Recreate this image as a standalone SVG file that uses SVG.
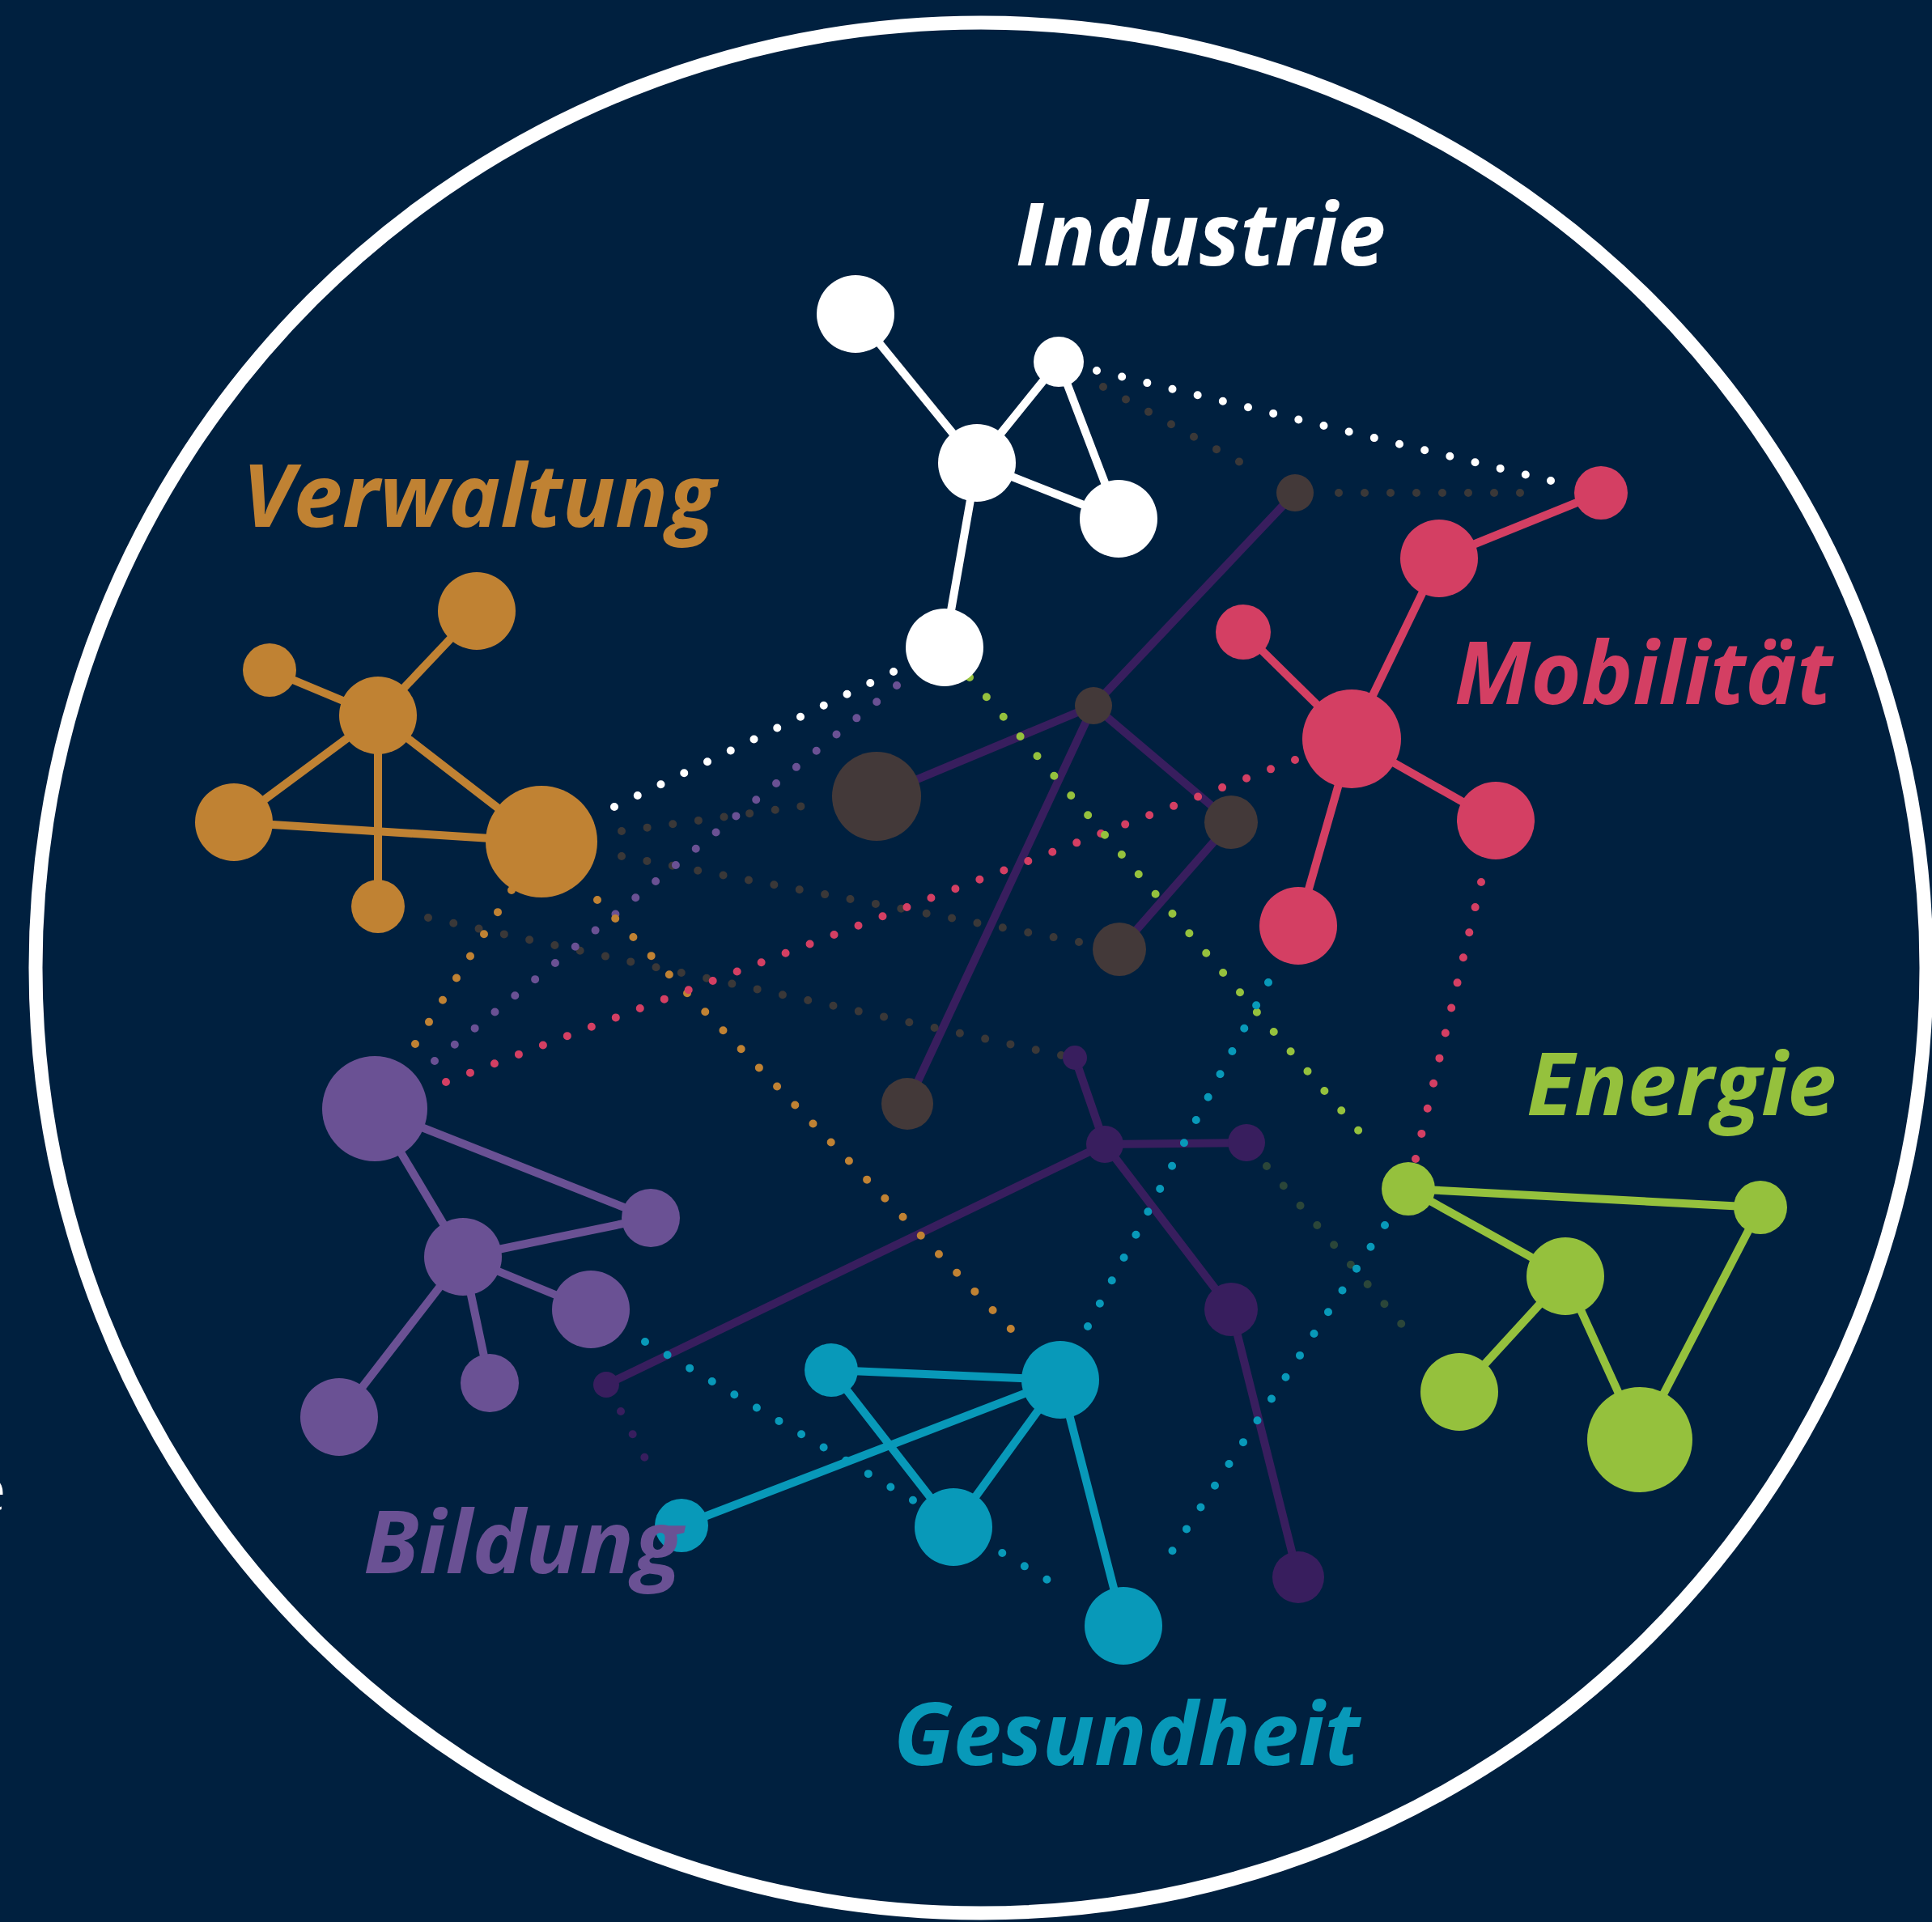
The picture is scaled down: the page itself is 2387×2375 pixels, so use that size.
<svg xmlns="http://www.w3.org/2000/svg" width="2387" height="2375" viewBox="0 0 2387 2375">
  <style>
    .edge { fill: none; stroke-width: 10; stroke-linecap: round; }
    .dots { fill: none; stroke-width: 10; stroke-linecap: round; stroke-dasharray: 0 1; }
    .label { font-family: "Open Sans", "Noto Sans", "Liberation Sans", sans-serif; font-weight: 700; font-style: italic; font-size: 108px; }
    .white { stroke: #ffffff; } .fwhite { fill: #ffffff; }
    .orange { stroke: #c08233; } .forange { fill: #c08233; }
    .red { stroke: #d43f63; } .fred { fill: #d43f63; }
    .green { stroke: #95c13d; } .fgreen { fill: #95c13d; }
    .teal { stroke: #0899b9; } .fteal { fill: #0899b9; }
    .purple { stroke: #6a5194; } .fpurple { fill: #6a5194; }
    .dpurple { stroke: #381e5e; } .fdpurple { fill: #381e5e; }
    .gray { stroke: #3a3838; } .fbrown { fill: #433939; }
    .dgreen { stroke: #2b4639; }
  </style>

  <!-- background and outer ring -->
  <rect x="0" y="0" width="2387" height="2375" fill="#00203f"/>
  <circle cx="1212" cy="1196" r="1168" fill="none" stroke="#ffffff" stroke-width="17"/>
  <text x="-33" y="1867" font-family="Open Sans, sans-serif" font-weight="300" font-size="74" fill="#ffffff">e</text>

  <g id="connectors">
    <!-- solid links inside each cluster -->
    <g class="edge white">
      <line x1="1057" y1="388" x2="1207" y2="572"/>
      <line x1="1308" y1="447" x2="1207" y2="572"/>
      <line x1="1308" y1="447" x2="1382" y2="641"/>
      <line x1="1207" y1="572" x2="1382" y2="641"/>
      <line x1="1207" y1="572" x2="1167" y2="800"/>
    </g>
    <g class="edge orange">
      <line x1="333" y1="828" x2="467" y2="884"/>
      <line x1="589" y1="755" x2="467" y2="884"/>
      <line x1="467" y1="884" x2="289" y2="1016"/>
      <line x1="467" y1="884" x2="669" y2="1040"/>
      <line x1="467" y1="884" x2="467" y2="1120"/>
      <line x1="289" y1="1016" x2="669" y2="1040"/>
    </g>
    <g class="edge red">
      <line x1="1978" y1="609" x2="1778" y2="690"/>
      <line x1="1778" y1="690" x2="1670" y2="913"/>
      <line x1="1536" y1="781" x2="1670" y2="913"/>
      <line x1="1670" y1="913" x2="1848" y2="1014"/>
      <line x1="1670" y1="913" x2="1604" y2="1144"/>
    </g>
    <g class="edge green">
      <line x1="1740" y1="1469" x2="2175" y2="1492"/>
      <line x1="1740" y1="1469" x2="1934" y2="1577"/>
      <line x1="1934" y1="1577" x2="1803" y2="1720"/>
      <line x1="1934" y1="1577" x2="2026" y2="1779"/>
      <line x1="2175" y1="1492" x2="2026" y2="1779"/>
    </g>
    <g class="edge teal">
      <line x1="1027" y1="1693" x2="1310" y2="1705"/>
      <line x1="1027" y1="1693" x2="1178" y2="1887"/>
      <line x1="1310" y1="1705" x2="1178" y2="1887"/>
      <line x1="1310" y1="1705" x2="842" y2="1885"/>
      <line x1="1310" y1="1705" x2="1388" y2="2009"/>
    </g>
    <g class="edge purple">
      <line x1="463" y1="1370" x2="804" y2="1505"/>
      <line x1="463" y1="1370" x2="572" y2="1553"/>
      <line x1="572" y1="1553" x2="804" y2="1505"/>
      <line x1="572" y1="1553" x2="730" y2="1618"/>
      <line x1="572" y1="1553" x2="419" y2="1751"/>
      <line x1="572" y1="1553" x2="605" y2="1709"/>
    </g>
    <g class="edge dpurple">
      <line x1="1600" y1="609" x2="1351" y2="872"/>
      <line x1="1351" y1="872" x2="1083" y2="984"/>
      <line x1="1351" y1="872" x2="1521" y2="1016"/>
      <line x1="1521" y1="1016" x2="1383" y2="1173"/>
      <line x1="1351" y1="872" x2="1121" y2="1364"/>
      <line x1="1328" y1="1307" x2="1365" y2="1414"/>
      <line x1="1365" y1="1414" x2="1540" y2="1412"/>
      <line x1="1365" y1="1414" x2="1521" y2="1618"/>
      <line x1="1521" y1="1618" x2="1604" y2="1949"/>
      <line x1="1365" y1="1414" x2="749" y2="1711"/>
    </g>

    <!-- dotted links between clusters -->
    <path class="dots gray" d="M1363,478 L1559,586" pathLength="7"/>
    <path class="dots gray" d="M1654,609 L1910,609" pathLength="8"/>
    <path class="dots gray" d="M768,1027 L1021,992" pathLength="8"/>
    <path class="dots gray" d="M768,1058 L1333,1164" pathLength="18"/>
    <path class="dots gray" d="M529,1134 L1311,1304" pathLength="25"/>
    <path class="dots dgreen" d="M1565,1441 L1752,1660" pathLength="9"/>
    <path class="dots white" d="M1355,458 L1916,594" pathLength="18"/>
    <path class="dots white" d="M1104,830 L759,997" pathLength="12"/>
    <path class="dots purple" d="M1108,847 L537,1311" pathLength="23"/>
    <path class="dots orange" d="M632,1100 L513,1290" pathLength="7"/>
    <path class="dots orange" d="M738,1112 L1271,1665" pathLength="24"/>
    <path class="dots red" d="M1600,939 L551,1337" pathLength="35"/>
    <path class="dots red" d="M1830,1090 L1749,1432" pathLength="11"/>
    <path class="dots green" d="M1198,837 L1699,1421" pathLength="24"/>
    <path class="dots teal" d="M1567,1214 L1344,1639" pathLength="15"/>
    <path class="dots teal" d="M1711,1514 L1431,1943" pathLength="16"/>
    <path class="dots teal" d="M797,1658 L1321,1968" pathLength="19"/>
    <path class="dots dpurple" d="M767,1744 L811,1829" pathLength="3"/>
  </g>

  <!-- Industrie -->
  <g id="industrie-1" class="fwhite"><circle cx="1057" cy="388" r="48"/></g>
  <g id="industrie-2" class="fwhite"><circle cx="1308" cy="447" r="31"/></g>
  <g id="industrie-3" class="fwhite"><circle cx="1207" cy="572" r="48"/></g>
  <g id="industrie-4" class="fwhite"><circle cx="1382" cy="641" r="48"/></g>
  <g id="industrie-5" class="fwhite"><circle cx="1167" cy="800" r="48"/></g>

  <!-- Verwaltung -->
  <g id="verwaltung-1" class="forange"><circle cx="333" cy="828" r="33"/></g>
  <g id="verwaltung-2" class="forange"><circle cx="589" cy="755" r="48"/></g>
  <g id="verwaltung-3" class="forange"><circle cx="467" cy="884" r="48"/></g>
  <g id="verwaltung-4" class="forange"><circle cx="289" cy="1016" r="48"/></g>
  <g id="verwaltung-5" class="forange"><circle cx="669" cy="1040" r="69"/></g>
  <g id="verwaltung-6" class="forange"><circle cx="467" cy="1120" r="33"/></g>

  <!-- Mobilität -->
  <g id="mobilitaet-1" class="fred"><circle cx="1978" cy="609" r="33"/></g>
  <g id="mobilitaet-2" class="fred"><circle cx="1778" cy="690" r="48"/></g>
  <g id="mobilitaet-3" class="fred"><circle cx="1536" cy="781" r="34"/></g>
  <g id="mobilitaet-4" class="fred"><circle cx="1670" cy="913" r="61"/></g>
  <g id="mobilitaet-5" class="fred"><circle cx="1848" cy="1014" r="48"/></g>
  <g id="mobilitaet-6" class="fred"><circle cx="1604" cy="1144" r="48"/></g>

  <!-- Energie -->
  <g id="energie-1" class="fgreen"><circle cx="1740" cy="1469" r="33"/></g>
  <g id="energie-2" class="fgreen"><circle cx="2175" cy="1492" r="33"/></g>
  <g id="energie-3" class="fgreen"><circle cx="1934" cy="1577" r="48"/></g>
  <g id="energie-4" class="fgreen"><circle cx="1803" cy="1720" r="48"/></g>
  <g id="energie-5" class="fgreen"><circle cx="2026" cy="1779" r="65"/></g>

  <!-- Gesundheit -->
  <g id="gesundheit-1" class="fteal"><circle cx="1027" cy="1693" r="33"/></g>
  <g id="gesundheit-2" class="fteal"><circle cx="1310" cy="1705" r="48"/></g>
  <g id="gesundheit-3" class="fteal"><circle cx="842" cy="1885" r="33"/></g>
  <g id="gesundheit-4" class="fteal"><circle cx="1178" cy="1887" r="48"/></g>
  <g id="gesundheit-5" class="fteal"><circle cx="1388" cy="2009" r="48"/></g>

  <!-- Bildung -->
  <g id="bildung-1" class="fpurple"><circle cx="463" cy="1370" r="65"/></g>
  <g id="bildung-2" class="fpurple"><circle cx="804" cy="1505" r="36"/></g>
  <g id="bildung-3" class="fpurple"><circle cx="572" cy="1553" r="48"/></g>
  <g id="bildung-4" class="fpurple"><circle cx="730" cy="1618" r="48"/></g>
  <g id="bildung-5" class="fpurple"><circle cx="419" cy="1751" r="48"/></g>
  <g id="bildung-6" class="fpurple"><circle cx="605" cy="1709" r="36"/></g>

  <!-- unnamed dark hubs -->
  <g id="hub-1" class="fbrown"><circle cx="1083" cy="984" r="55"/></g>
  <g id="hub-2" class="fbrown"><circle cx="1351" cy="872" r="23"/></g>
  <g id="hub-3" class="fbrown"><circle cx="1600" cy="609" r="23"/></g>
  <g id="hub-4" class="fbrown"><circle cx="1521" cy="1016" r="33"/></g>
  <g id="hub-5" class="fbrown"><circle cx="1383" cy="1173" r="33"/></g>
  <g id="hub-6" class="fbrown"><circle cx="1121" cy="1364" r="32"/></g>

  <g id="link-1" class="fdpurple"><circle cx="1328" cy="1307" r="15"/></g>
  <g id="link-2" class="fdpurple"><circle cx="1365" cy="1414" r="23"/></g>
  <g id="link-3" class="fdpurple"><circle cx="1540" cy="1412" r="23"/></g>
  <g id="link-4" class="fdpurple"><circle cx="1521" cy="1618" r="33"/></g>
  <g id="link-5" class="fdpurple"><circle cx="1604" cy="1949" r="32"/></g>
  <g id="link-6" class="fdpurple"><circle cx="749" cy="1711" r="16"/></g>

  <!-- cluster labels -->
  <g id="label-industrie"><text class="label fwhite" x="1255" y="328" textLength="457" lengthAdjust="spacingAndGlyphs">Industrie</text></g>
  <g id="label-verwaltung"><text class="label forange" x="299" y="651" textLength="585" lengthAdjust="spacingAndGlyphs">Verwaltung</text></g>
  <g id="label-mobilitaet"><text class="label fred" x="1797" y="870" textLength="467" lengthAdjust="spacingAndGlyphs">Mobilität</text></g>
  <g id="label-energie"><text class="label fgreen" x="1886" y="1378" textLength="383" lengthAdjust="spacingAndGlyphs">Energie</text></g>
  <g id="label-bildung"><text class="label fpurple" x="449" y="1944" textLength="394" lengthAdjust="spacingAndGlyphs">Bildung</text></g>
  <g id="label-gesundheit"><text class="label fteal" x="1104" y="2181" textLength="576" lengthAdjust="spacingAndGlyphs">Gesundheit</text></g>
</svg>
